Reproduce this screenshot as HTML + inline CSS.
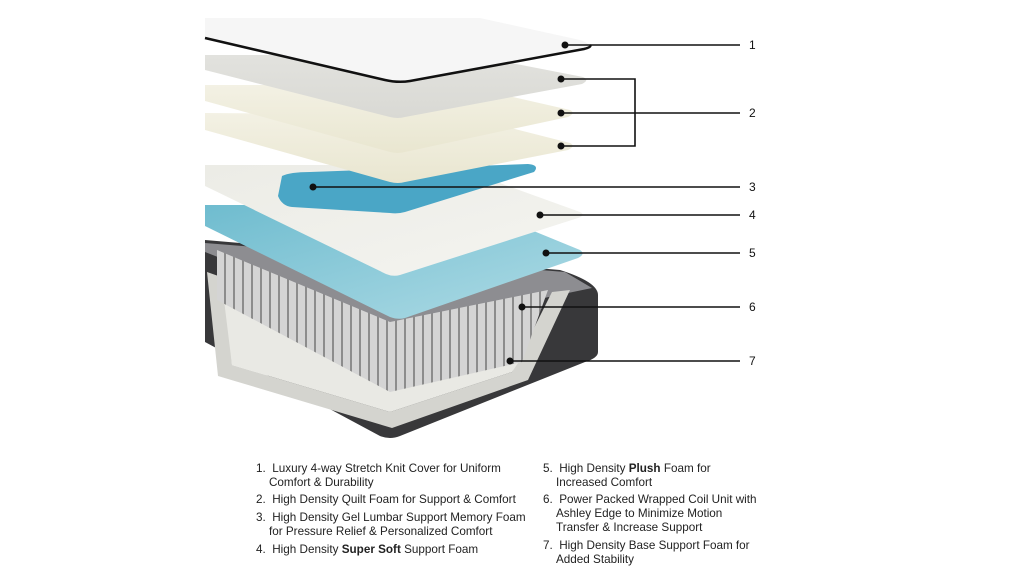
<!DOCTYPE html>
<html><head><meta charset="utf-8"><style>
html,body{margin:0;padding:0;background:#fff;width:1024px;height:576px;overflow:hidden;font-family:"Liberation Sans",sans-serif;}
.t{position:absolute;font-size:11.7px;color:#222;line-height:14px;white-space:nowrap}
.n{position:absolute;font-size:12px;color:#111}
</style></head><body>
<svg width="1024" height="576" style="position:absolute;left:0;top:0">
<defs>
<linearGradient id="cream" x1="0" y1="0" x2="0" y2="1"><stop offset="0" stop-color="#f3f1e4"/><stop offset="1" stop-color="#e9e6d0"/></linearGradient>
<linearGradient id="grey" x1="0" y1="0" x2="0" y2="1"><stop offset="0" stop-color="#e2e2de"/><stop offset="1" stop-color="#d9d9d4"/></linearGradient>
<linearGradient id="blue" x1="0" y1="0" x2="1" y2="1"><stop offset="0" stop-color="#6fbccf"/><stop offset="1" stop-color="#aedbe5"/></linearGradient>
<linearGradient id="l4" x1="0" y1="0" x2="1" y2="1"><stop offset="0" stop-color="#ececE6"/><stop offset="1" stop-color="#f4f4f0"/></linearGradient>
<pattern id="coil" width="9" height="400" patternUnits="userSpaceOnUse"><rect width="9" height="400" fill="#8c8c8c"/><rect x="1" y="0" width="7" height="400" rx="3" fill="#d4d4d4"/></pattern>
</defs>
<path d="M205,240 L560,270 Q598,282 598,295 L598,352 Q598,358 585,362 L400,436 Q390,440 380,436 L205,342 Z" fill="#38383a"/>
<polygon points="205,243 565,272 592,288 400,328 205,252" fill="#8d8d91"/>
<polygon points="207,272 224,278 232,365 390,412 512,372 552,292 570,290 528,380 392,428 218,376" fill="#d4d4cf"/>
<polygon points="224,300 390,390 520,360 512,372 390,412 232,365" fill="#e9e9e4"/>
<polygon points="217,250 390,322 548,290 522,362 390,392 217,300" fill="url(#coil)"/>
<path d="M205,205 L470,205 L580,250 Q586,254 578,258 L405,318 Q398,320 390,317 L205,226 Z" fill="url(#blue)"/>
<path d="M205,165 L450,165 L580,212 Q586,215 578,218 L400,275 Q393,277 386,274 L205,186 Z" fill="url(#l4)"/>
<path d="M282,176 Q290,172 310,172 L528,164 Q540,165 534,172 L405,212 Q398,214 390,213 L292,207 Q282,206 278,196 Z" fill="#4aa6c6"/>
<path d="M205,113 L460,115 L570,143 Q576,146 568,150 L405,182 Q398,184 390,182 L205,130 Z" fill="url(#cream)"/>
<path d="M205,85 L460,85 L570,110 Q576,113 568,117 L405,152 Q398,154 390,152 L205,101 Z" fill="url(#cream)"/>
<path d="M205,55 L470,55 L583,77 Q590,80 582,84 L405,117 Q398,119 390,117 L205,70 Z" fill="url(#grey)"/>
<path d="M205,18 L480,18 L580,40 Q593,44 586,49 L410,81 Q398,83 385,80 L205,38 Z" fill="#f6f6f6"/>
<path d="M205,38 L385,80 Q398,83 410,81 L584,49 Q592,47 590,45" fill="none" stroke="#111" stroke-width="2.5"/>
<g stroke="#111" stroke-width="1.6" fill="none">
<line x1="565" y1="45" x2="740" y2="45"/>
<polyline points="561,79 635,79 635,146 561,146"/>
<line x1="561" y1="113" x2="740" y2="113"/>
<line x1="313" y1="187" x2="740" y2="187"/>
<line x1="540" y1="215" x2="740" y2="215"/>
<line x1="546" y1="253" x2="740" y2="253"/>
<line x1="522" y1="307" x2="740" y2="307"/>
<line x1="510" y1="361" x2="740" y2="361"/>
</g>
<g fill="#111">
<circle cx="565" cy="45" r="3.5"/><circle cx="561" cy="79" r="3.5"/><circle cx="561" cy="113" r="3.5"/><circle cx="561" cy="146" r="3.5"/>
<circle cx="313" cy="187" r="3.5"/><circle cx="540" cy="215" r="3.5"/><circle cx="546" cy="253" r="3.5"/><circle cx="522" cy="307" r="3.5"/><circle cx="510" cy="361" r="3.5"/>
</g>
</svg>
<div class="n" style="left:749px;top:38px">1</div>
<div class="n" style="left:749px;top:106px">2</div>
<div class="n" style="left:749px;top:180px">3</div>
<div class="n" style="left:749px;top:208px">4</div>
<div class="n" style="left:749px;top:246px">5</div>
<div class="n" style="left:749px;top:300px">6</div>
<div class="n" style="left:749px;top:354px">7</div>

<div class="t" style="left:256px;top:462px">1.&nbsp; Luxury 4-way Stretch Knit Cover for Uniform<br>&nbsp;&nbsp;&nbsp;&nbsp;Comfort &amp; Durability</div>
<div class="t" style="left:256px;top:493px">2.&nbsp; High Density Quilt Foam for Support &amp; Comfort</div>
<div class="t" style="left:256px;top:511px">3.&nbsp; High Density Gel Lumbar Support Memory Foam<br>&nbsp;&nbsp;&nbsp;&nbsp;for Pressure Relief &amp; Personalized Comfort</div>
<div class="t" style="left:256px;top:543px">4.&nbsp; High Density <b>Super Soft</b> Support Foam</div>
<div class="t" style="left:543px;top:462px">5.&nbsp; High Density <b>Plush</b> Foam for<br>&nbsp;&nbsp;&nbsp;&nbsp;Increased Comfort</div>
<div class="t" style="left:543px;top:493px">6.&nbsp; Power Packed Wrapped Coil Unit with<br>&nbsp;&nbsp;&nbsp;&nbsp;Ashley Edge to Minimize Motion<br>&nbsp;&nbsp;&nbsp;&nbsp;Transfer &amp; Increase Support</div>
<div class="t" style="left:543px;top:539px">7.&nbsp; High Density Base Support Foam for<br>&nbsp;&nbsp;&nbsp;&nbsp;Added Stability</div>
</body></html>
